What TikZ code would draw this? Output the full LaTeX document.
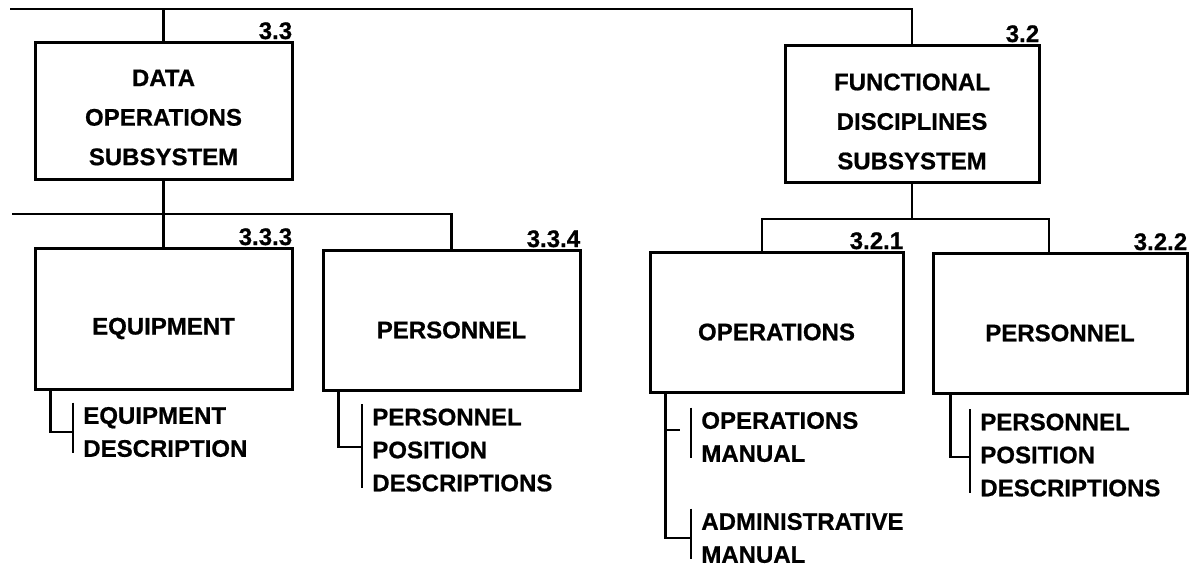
\documentclass[tikz,border=0pt]{standalone}
\usepackage{fontspec}
\setmainfont{Liberation Sans}
\newfontfamily\heavy{Liberation Sans}[BoldFeatures={FakeBold=0.7}]
\begin{document}
\begin{tikzpicture}[x=1pt,y=-1pt,
  line width=2.7pt,
  unitbox/.style={draw, line width=3pt, inner sep=0pt},
  boxtext/.style={align=center, inner sep=0pt,
    font=\heavy\bfseries\fontsize{24}{39.5}\selectfont},
  doc/.style={anchor=west, align=left, inner xsep=0pt, inner ysep=0pt,
    font=\heavy\bfseries\fontsize{24}{33}\selectfont},
  num/.style={anchor=base east, inner sep=0pt, yshift=1.5pt,
    font=\heavy\bfseries\fontsize{24}{24}\selectfont}]
\useasboundingbox (0,0) rectangle (1191,566);

% subsystem boxes
\node[unitbox, minimum width=257pt, minimum height=137pt] (b33) at (163.5,110.5) {};
\node[unitbox, minimum width=254pt, minimum height=137pt] (b32) at (912,113.5) {};
\node[boxtext] (t33) at ([yshift=-7pt]b33.center) {DATA\\OPERATIONS\\SUBSYSTEM};
\node[boxtext] (t32) at ([yshift=-8pt]b32.center) {FUNCTIONAL\\DISCIPLINES\\SUBSYSTEM};

% component boxes
\node[unitbox, minimum width=257pt, minimum height=141pt] (b333) at (163.5,318.5) {};
\node[unitbox, minimum width=257pt, minimum height=140pt] (b334) at (451.5,320) {};
\node[unitbox, minimum width=253pt, minimum height=140pt] (b321) at (776.5,322) {};
\node[unitbox, minimum width=254pt, minimum height=140pt] (b322) at (1060,323) {};
\node[boxtext] (t333) at ([yshift=-10pt]b333.center) {EQUIPMENT};
\node[boxtext] (t334) at ([yshift=-10pt]b334.center) {PERSONNEL};
\node[boxtext] (t321) at ([yshift=-10pt]b321.center) {OPERATIONS};
\node[boxtext] (t322) at ([yshift=-10pt]b322.center) {PERSONNEL};

% section numbers
\node[num] (n33)  at (b33.north east)  {3.3};
\node[num] (n32)  at (b32.north east)  {3.2};
\node[num] (n333) at (b333.north east) {3.3.3};
\node[num] (n334) at (b334.north east) {3.3.4};
\node[num] (n321) at (b321.north east) {3.2.1};
\node[num] (n322) at (b322.north east) {3.2.2};

% buses
\coordinate (topL) at (10,9);
\coordinate (midL) at (12,214);
\coordinate (rj) at (912,219);
\draw (topL) -| (b32.north);
\draw (b33.north |- topL) -- (b33.north);
\draw (midL) -| (b334.north);
\draw (b33.south) -- (b333.north);
\draw (b32.south) -- (b32.south |- rj);
\draw ([xshift=-14.5pt]b321.north) |- (b32.south |- rj) -| ([xshift=-11pt]b322.north);

% documents
\node[doc] (d1) at (82,432) {EQUIPMENT\\DESCRIPTION};
\node[doc] (d2) at (371,450) {PERSONNEL\\POSITION\\DESCRIPTIONS};
\node[doc] (d3) at (700,437) {OPERATIONS\\MANUAL};
\node[doc] (d4) at (700,538) {ADMINISTRATIVE\\MANUAL};
\node[doc] (d5) at (979,455) {PERSONNEL\\POSITION\\DESCRIPTIONS};

% document brackets
\foreach \d in {d1,d2,d3,d4,d5}{
  \draw ([xshift=-9pt,yshift=3pt]\d.north west) -- ([xshift=-9pt,yshift=5pt]\d.south west);
}
\draw ([xshift=17pt]b333.south west) |- ([xshift=-9pt]d1.west);
\draw ([xshift=17pt]b334.south west) |- ([xshift=-9pt,yshift=3pt]d2.west);
\draw ([xshift=17pt]b321.south west) |- ([xshift=-9pt]d4.west);
\draw ([xshift=17pt]b321.south west |- d3.west) ++(0,-7) -- ++(14,0);
\draw ([xshift=19pt]b322.south west) |- ([xshift=-9pt,yshift=-2pt]d5.west);
\end{tikzpicture}
\end{document}
